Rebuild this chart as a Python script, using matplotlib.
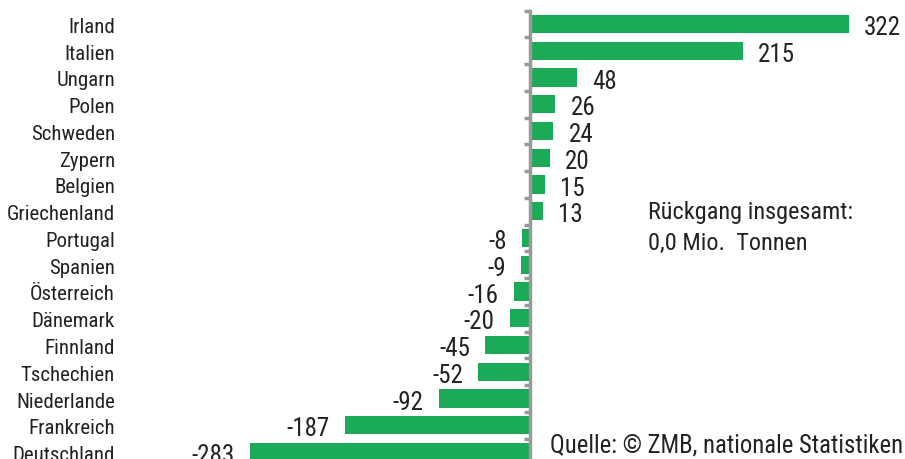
import numpy as np
import matplotlib.pyplot as plt

laender = ['Irland', 'Italien', 'Ungarn', 'Polen', 'Schweden', 'Zypern', 'Belgien',
           'Griechenland', 'Portugal', 'Spanien', 'Österreich', 'Dänemark', 'Finnland',
           'Tschechien', 'Niederlande', 'Frankreich', 'Deutschland']
werte = [322, 215, 48, 26, 24, 20, 15, 13, -8, -9, -16, -20, -45, -52, -92, -187, -283]

plt.rcParams['font.family'] = ['Roboto Condensed', 'DejaVu Sans']

gruen = '#1BAA55'
grau = '#9a9a9a'

fig = plt.figure(figsize=(9.05, 4.59), dpi=100)
# Achse reicht unten etwas aus dem Bild heraus (wie im Original abgeschnitten)
ax = fig.add_axes([0, -0.014, 1, 0.991])

y = np.arange(len(laender))
ax.barh(y, werte, height=0.68, color=gruen, zorder=2)

ax.set_xlim(-535, 379)
ax.set_ylim(len(laender) - 0.5, -0.5)

for s in ['top', 'right', 'bottom']:
    ax.spines[s].set_visible(False)
ax.spines['left'].set_position(('data', 0))
ax.spines['left'].set_color(grau)
ax.spines['left'].set_linewidth(2.5)
ax.spines['left'].set_zorder(3)

ax.set_xticks([])
ax.set_yticks(np.arange(-0.5, len(laender), 1))
ax.set_yticklabels([])
ax.tick_params(axis='y', direction='out', length=4, width=2.5, color=grau)

for i, (name, v) in enumerate(zip(laender, werte)):
    ax.annotate(name, (0.127, i), xycoords=ax.get_yaxis_transform(),
                xytext=(0, -2.5), textcoords='offset points',
                ha='right', va='center', fontsize=15, color='#222222')
    if v >= 0:
        ax.annotate(str(v), (v, i), xytext=(11, -3), textcoords='offset points',
                    ha='left', va='center', fontsize=18, color='#222222')
    else:
        ax.annotate(str(v), (v, i), xytext=(-11, -3), textcoords='offset points',
                    ha='right', va='center', fontsize=18, color='#222222')

fig.text(0.716, 0.536, 'Rückgang insgesamt:', ha='left', va='center', fontsize=17.5, color='#222222')
fig.text(0.716, 0.469, '0,0 Mio.  Tonnen', ha='left', va='center', fontsize=17.5, color='#222222')
fig.text(0.608, 0.0305, 'Quelle: © ZMB, nationale Statistiken', ha='left', va='center',
         fontsize=17.8, color='#222222')

fig.savefig('out.png', dpi=100)
